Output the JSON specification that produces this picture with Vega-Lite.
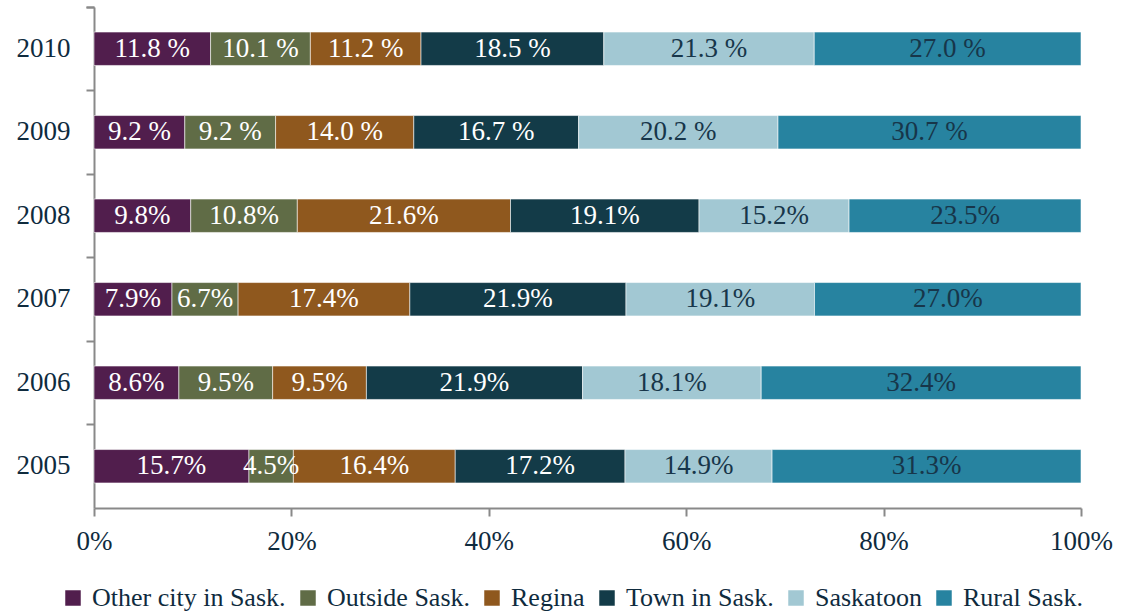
{
  "$schema": "https://vega.github.io/schema/vega-lite/v6.json",
  "width": 987,
  "height": 501,
  "autosize": {"type": "none"},
  "padding": {"left": 94, "top": 7, "right": 41, "bottom": 104},
  "background": "white",
  "config": {
    "view": {"stroke": null},
    "font": "Liberation Serif"
  },
  "data": {
    "values": [
      {"year": "2010", "cat": "Other city in Sask.", "k": 1, "value": 11.8, "label": "11.8 %"},
      {"year": "2010", "cat": "Outside Sask.", "k": 2, "value": 10.1, "label": "10.1 %"},
      {"year": "2010", "cat": "Regina", "k": 3, "value": 11.2, "label": "11.2 %"},
      {"year": "2010", "cat": "Town in Sask.", "k": 4, "value": 18.5, "label": "18.5 %"},
      {"year": "2010", "cat": "Saskatoon", "k": 5, "value": 21.3, "label": "21.3 %"},
      {"year": "2010", "cat": "Rural Sask.", "k": 6, "value": 27.0, "label": "27.0 %"},
      {"year": "2009", "cat": "Other city in Sask.", "k": 1, "value": 9.2, "label": "9.2 %"},
      {"year": "2009", "cat": "Outside Sask.", "k": 2, "value": 9.2, "label": "9.2 %"},
      {"year": "2009", "cat": "Regina", "k": 3, "value": 14.0, "label": "14.0 %"},
      {"year": "2009", "cat": "Town in Sask.", "k": 4, "value": 16.7, "label": "16.7 %"},
      {"year": "2009", "cat": "Saskatoon", "k": 5, "value": 20.2, "label": "20.2 %"},
      {"year": "2009", "cat": "Rural Sask.", "k": 6, "value": 30.7, "label": "30.7 %"},
      {"year": "2008", "cat": "Other city in Sask.", "k": 1, "value": 9.8, "label": "9.8%"},
      {"year": "2008", "cat": "Outside Sask.", "k": 2, "value": 10.8, "label": "10.8%"},
      {"year": "2008", "cat": "Regina", "k": 3, "value": 21.6, "label": "21.6%"},
      {"year": "2008", "cat": "Town in Sask.", "k": 4, "value": 19.1, "label": "19.1%"},
      {"year": "2008", "cat": "Saskatoon", "k": 5, "value": 15.2, "label": "15.2%"},
      {"year": "2008", "cat": "Rural Sask.", "k": 6, "value": 23.5, "label": "23.5%"},
      {"year": "2007", "cat": "Other city in Sask.", "k": 1, "value": 7.9, "label": "7.9%"},
      {"year": "2007", "cat": "Outside Sask.", "k": 2, "value": 6.7, "label": "6.7%"},
      {"year": "2007", "cat": "Regina", "k": 3, "value": 17.4, "label": "17.4%"},
      {"year": "2007", "cat": "Town in Sask.", "k": 4, "value": 21.9, "label": "21.9%"},
      {"year": "2007", "cat": "Saskatoon", "k": 5, "value": 19.1, "label": "19.1%"},
      {"year": "2007", "cat": "Rural Sask.", "k": 6, "value": 27.0, "label": "27.0%"},
      {"year": "2006", "cat": "Other city in Sask.", "k": 1, "value": 8.6, "label": "8.6%"},
      {"year": "2006", "cat": "Outside Sask.", "k": 2, "value": 9.5, "label": "9.5%"},
      {"year": "2006", "cat": "Regina", "k": 3, "value": 9.5, "label": "9.5%"},
      {"year": "2006", "cat": "Town in Sask.", "k": 4, "value": 21.9, "label": "21.9%"},
      {"year": "2006", "cat": "Saskatoon", "k": 5, "value": 18.1, "label": "18.1%"},
      {"year": "2006", "cat": "Rural Sask.", "k": 6, "value": 32.4, "label": "32.4%"},
      {"year": "2005", "cat": "Other city in Sask.", "k": 1, "value": 15.7, "label": "15.7%"},
      {"year": "2005", "cat": "Outside Sask.", "k": 2, "value": 4.5, "label": "4.5%"},
      {"year": "2005", "cat": "Regina", "k": 3, "value": 16.4, "label": "16.4%"},
      {"year": "2005", "cat": "Town in Sask.", "k": 4, "value": 17.2, "label": "17.2%"},
      {"year": "2005", "cat": "Saskatoon", "k": 5, "value": 14.9, "label": "14.9%"},
      {"year": "2005", "cat": "Rural Sask.", "k": 6, "value": 31.3, "label": "31.3%"}
    ]
  },
  "transform": [
    {"stack": "value", "groupby": ["year"], "sort": [{"field": "k", "order": "ascending"}], "offset": "normalize", "as": ["x0", "x1"]}
  ],
  "encoding": {
    "y": {
      "field": "year",
      "type": "nominal",
      "sort": ["2010", "2009", "2008", "2007", "2006", "2005"],
      "scale": {"paddingInner": 0, "paddingOuter": 0},
      "axis": {
        "title": null,
        "bandPosition": 0,
        "tickExtra": true,
        "tickSize": 8,
        "tickColor": "#898989",
        "tickWidth": 2,
        "domainColor": "#898989",
        "domainWidth": 2,
        "labelPadding": 16,
        "labelFontSize": 27,
        "labelColor": "#0f2b3e",
        "labelFont": "Liberation Serif",
        "grid": false
      }
    }
  },
  "layer": [
    {
      "mark": {"type": "bar", "height": {"band": 0.4}, "stroke": "white", "strokeWidth": 0.7, "strokeOpacity": 0.8},
      "encoding": {
        "x": {
          "field": "x0",
          "type": "quantitative",
          "scale": {"domain": [0, 1], "nice": false},
          "axis": {
            "title": null,
            "format": "%",
            "values": [0, 0.2, 0.4, 0.6, 0.8, 1],
            "tickSize": 8,
            "tickColor": "#898989",
            "tickWidth": 2,
            "domainColor": "#898989",
            "domainWidth": 2,
            "labelPadding": 12,
            "labelFontSize": 27,
            "labelColor": "#0f2b3e",
            "labelFont": "Liberation Serif",
            "labelFlush": false,
            "grid": false
          }
        },
        "x2": {"field": "x1"},
        "color": {
          "field": "cat",
          "type": "nominal",
          "sort": ["Other city in Sask.", "Outside Sask.", "Regina", "Town in Sask.", "Saskatoon", "Rural Sask."],
          "scale": {
            "domain": ["Other city in Sask.", "Outside Sask.", "Regina", "Town in Sask.", "Saskatoon", "Rural Sask."],
            "range": ["#511e4d", "#606c46", "#8f581e", "#133b48", "#a2c8d3", "#2783a0"]
          },
          "legend": {
            "title": null,
            "orient": "none",
            "direction": "horizontal",
            "legendX": -34,
            "legendY": 578,
            "symbolType": "square",
            "symbolSize": 240,
            "symbolStrokeWidth": 0,
            "labelFontSize": 26,
            "labelFont": "Liberation Serif",
            "labelColor": "#0f2b3e",
            "labelOffset": 6,
            "columnPadding": 9,
            "labelLimit": 400
          }
        }
      }
    },
    {
      "transform": [
        {"fold": ["x0", "x1"], "as": ["edge", "pos"]},
        {"aggregate": [{"op": "mean", "field": "pos", "as": "mid"}], "groupby": ["year", "cat", "label"]}
      ],
      "mark": {"type": "text", "fontSize": 27, "font": "Liberation Serif", "baseline": "middle", "align": "center"},
      "encoding": {
        "x": {"field": "mid", "type": "quantitative"},
        "text": {"field": "label"},
        "color": {
          "condition": {"test": "datum.cat === 'Saskatoon' || datum.cat === 'Rural Sask.'", "value": "#17364a"},
          "value": "white"
        }
      }
    }
  ]
}
